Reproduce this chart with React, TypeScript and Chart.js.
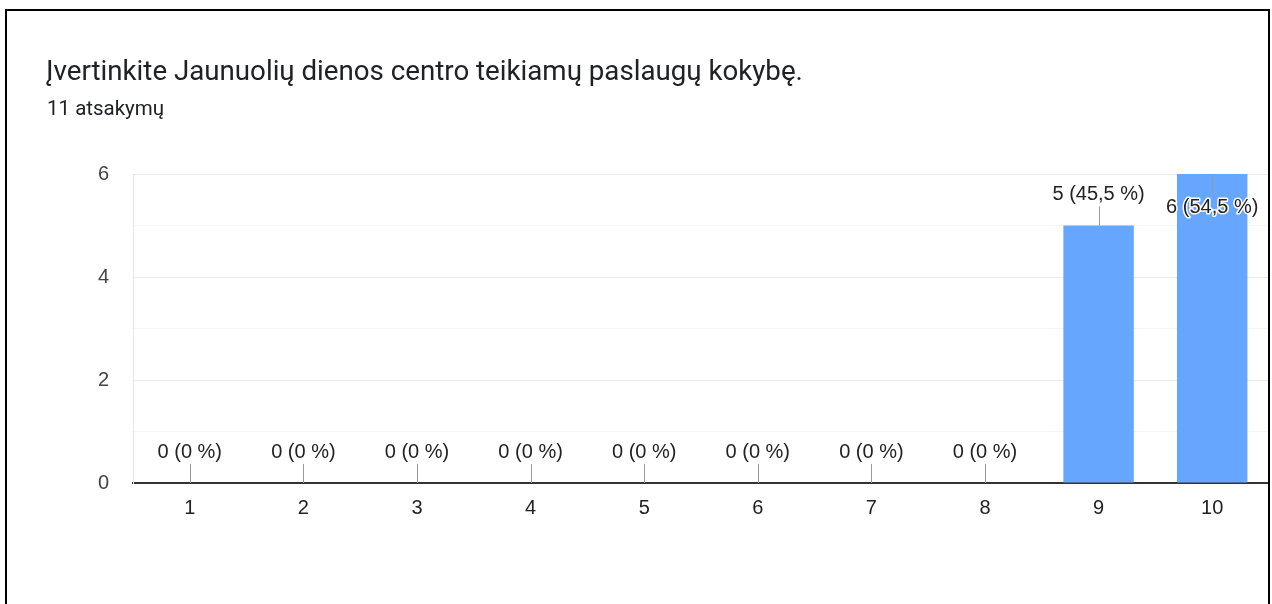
import React, { useEffect, useRef } from "react";
import { Chart, registerables } from "chart.js";

Chart.register(...registerables);

const TITLE = "Įvertinkite Jaunuolių dienos centro teikiamų paslaugų kokybę.";
const SUBTITLE = "11 atsakymų";
const categories = ["1", "2", "3", "4", "5", "6", "7", "8", "9", "10"];
const counts = [0, 0, 0, 0, 0, 0, 0, 0, 5, 6];
const percents = ["0", "0", "0", "0", "0", "0", "0", "0", "45,5", "54,5"];
const yTickLabels = [0, 2, 4, 6];

const FONT = "Roboto, 'Noto Sans', sans-serif";
const CFONT = "'Liberation Sans', Arial, sans-serif";

const labelPlugin = {
  id: "barLabels",
  afterDatasetsDraw(chart: any) {
    const ctx = chart.ctx;
    const meta = chart.getDatasetMeta(0);
    const area = chart.chartArea;
    ctx.save();
    ctx.font = `20px ${CFONT}`;
    ctx.textAlign = "center";
    ctx.textBaseline = "middle";
    meta.data.forEach((bar: any, i: number) => {
      const text = `${counts[i]} (${percents[i]} %)`;
      const x = bar.x;
      const top = bar.y;
      let labelY: number;
      let lineFrom: number;
      let lineTo: number;
      let inside = false;
      if (top - 44 < area.top) {
        inside = true;
        lineFrom = top;
        lineTo = top + 21;
        labelY = top + 33;
      } else {
        lineFrom = top - 19;
        lineTo = top;
        labelY = top - 31;
      }
      ctx.strokeStyle = "#999999";
      ctx.lineWidth = 1;
      ctx.beginPath();
      ctx.moveTo(Math.round(x) + 0.5, lineFrom);
      ctx.lineTo(Math.round(x) + 0.5, lineTo);
      ctx.stroke();
      if (inside) {
        ctx.strokeStyle = "#ffffff";
        ctx.lineWidth = 3;
        ctx.lineJoin = "round";
        ctx.strokeText(text, x, labelY);
      }
      ctx.fillStyle = "#222222";
      ctx.fillText(text, x, labelY);
    });
    ctx.restore();
  },
};

export default function App() {
  const ref = useRef<HTMLCanvasElement | null>(null);
  useEffect(() => {
    if (!ref.current) return;
    const chart = new Chart(ref.current, {
      type: "bar",
      data: {
        labels: categories,
        datasets: [
          {
            data: counts,
            backgroundColor: "#66a6ff",
            categoryPercentage: 1,
            barPercentage: 0.62,
          },
        ],
      },
      options: {
        responsive: false,
        animation: false,
        layout: { padding: { top: 174, right: 3, left: 0, bottom: 0 } },
        plugins: {
          legend: { display: false },
          tooltip: { enabled: false },
          title: { display: false },
        },
        scales: {
          x: {
            grid: { display: false, drawTicks: false },
            border: { display: true, color: "#333333", width: 2 },
            ticks: { color: "#222222", font: { family: CFONT, size: 20 }, padding: 13, maxRotation: 0 },
            afterFit: (s: any) => {
              s.height = 121;
            },
          },
          y: {
            min: 0,
            max: 6,
            grid: {
              drawTicks: false,
              color: (c: any) => (c.tick && c.tick.value % 2 === 0 ? "#ebebeb" : "#f5f5f5"),
              lineWidth: 1,
            },
            border: { display: true, color: "#e6e6e6", width: 1 },
            ticks: {
              stepSize: 1,
              color: "#444444",
              font: { family: CFONT, size: 20 },
              padding: 24,
              callback: (v: any) => (yTickLabels.includes(Number(v)) ? String(v) : ""),
            },
            afterFit: (s: any) => {
              s.width = 133;
            },
          },
        },
      },
      plugins: [labelPlugin],
    });
    return () => chart.destroy();
  }, []);

  return (
    <div
      style={{
        position: "absolute",
        left: 0,
        top: 0,
        width: 1272,
        height: 604,
        overflow: "hidden",
        background: "#ffffff",
        fontFamily: FONT,
      }}
    >
      <canvas ref={ref} width={1272} height={604} style={{ position: "absolute", left: 0, top: 0 }} />
      <div
        style={{
          position: "absolute",
          left: 46,
          top: 55,
          fontSize: 27.7,
          lineHeight: "32px",
          color: "#202124",
          whiteSpace: "nowrap",
        }}
      >
        {TITLE}
      </div>
      <div
        style={{
          position: "absolute",
          left: 47,
          top: 96,
          fontSize: 20.5,
          lineHeight: "24px",
          color: "#202124",
          whiteSpace: "nowrap",
        }}
      >
        {SUBTITLE}
      </div>
      <div
        style={{
          position: "absolute",
          left: 5,
          top: 9,
          width: 1261,
          height: 700,
          border: "2px solid #000000",
          pointerEvents: "none",
        }}
      />
    </div>
  );
}
